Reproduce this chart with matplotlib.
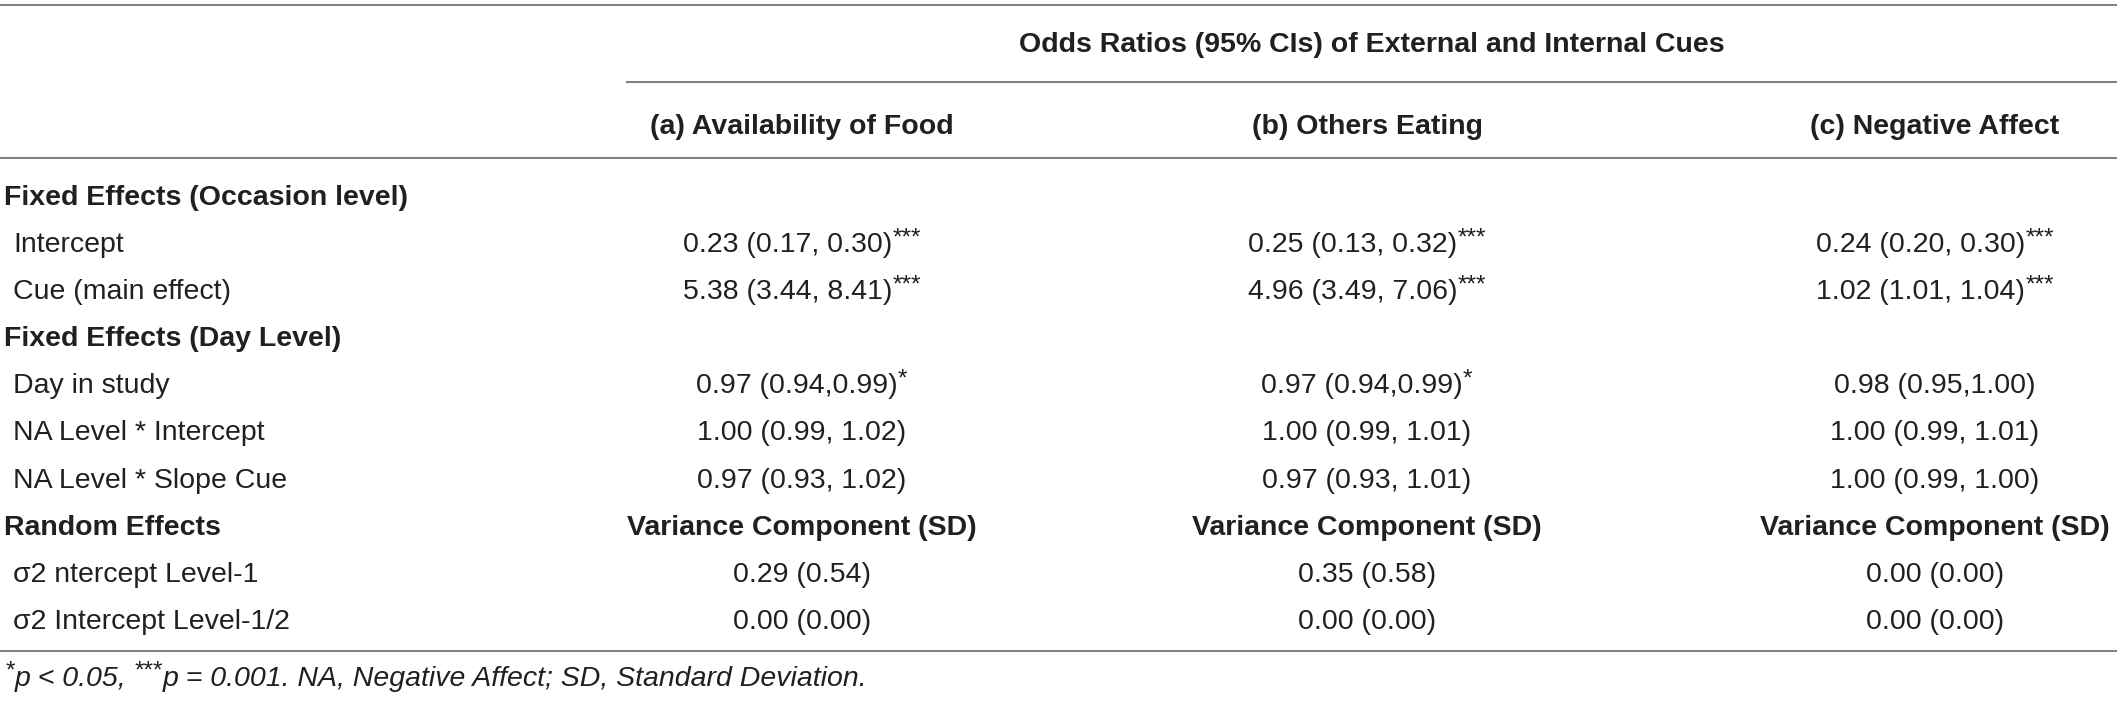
import re
import matplotlib
matplotlib.use("Agg")
import matplotlib.pyplot as plt

plt.rcParams['font.family'] = ['Liberation Sans', 'DejaVu Sans']

# table content
group_header = 'Odds Ratios (95% CIs) of External and Internal Cues'
col_headers = ['(a) Availability of Food', '(b) Others Eating', '(c) Negative Affect']
row_labels = [
    'Fixed Effects (Occasion level)',
    'Intercept',
    'Cue (main effect)',
    'Fixed Effects (Day Level)',
    'Day in study',
    'NA Level * Intercept',
    'NA Level * Slope Cue',
    'Random Effects',
    '\u03c32 ntercept Level-1',
    '\u03c32 Intercept Level-1/2',
]
row_is_section = [True, False, False, True, False, False, False, True, False, False]
col_a = ['', '0.23 (0.17, 0.30)***', '5.38 (3.44, 8.41)***', '',
         '0.97 (0.94,0.99)*', '1.00 (0.99, 1.02)', '0.97 (0.93, 1.02)',
         'Variance Component (SD)', '0.29 (0.54)', '0.00 (0.00)']
col_b = ['', '0.25 (0.13, 0.32)***', '4.96 (3.49, 7.06)***', '',
         '0.97 (0.94,0.99)*', '1.00 (0.99, 1.01)', '0.97 (0.93, 1.01)',
         'Variance Component (SD)', '0.35 (0.58)', '0.00 (0.00)']
col_c = ['', '0.24 (0.20, 0.30)***', '1.02 (1.01, 1.04)***', '',
         '0.98 (0.95,1.00)', '1.00 (0.99, 1.01)', '1.00 (0.99, 1.00)',
         'Variance Component (SD)', '0.00 (0.00)', '0.00 (0.00)']
footnote = [('*', True), ('p < 0.05, ', False), ('***', True),
            ('p = 0.001. NA, Negative Affect; SD, Standard Deviation.', False)]

W, H = 2117, 704
FS = 20.5
TXT = '#231f20'
LINE = '#808080'

fig = plt.figure(figsize=(W / 100, H / 100), dpi=100)
ax = fig.add_axes([0, 0, 1, 1])
ax.set_xlim(0, W)
ax.set_ylim(H, 0)
ax.axis('off')
renderer = fig.canvas.get_renderer()


def draw_runs(x, y, runs, ha='left', **kw):
    """Draw a line made of normal / superscript pieces, baseline at y."""
    size = kw.pop('fontsize', FS)
    arts = []
    for s, sup in runs:
        if sup:
            t = ax.text(0, y - 0.28 * size * 100 / 72, s, fontsize=size * 0.85,
                        va='baseline', ha='left', **kw)
        else:
            t = ax.text(0, y, s, fontsize=size, va='baseline', ha='left', **kw)
        arts.append(t)
    widths = [a.get_window_extent(renderer).width for a in arts]
    total = sum(widths)
    start = x - total / 2 if ha == 'center' else x
    for a, w in zip(arts, widths):
        a.set_x(start)
        start += w


def split_stars(s):
    m = re.match(r'^(.*?)(\*+)$', s)
    if m:
        return [(m.group(1), False), (m.group(2), True)]
    return [(s, False)]


# rules
ax.plot([0, W], [5, 5], color=LINE, lw=1.5)
ax.plot([627, W], [82, 82], color=LINE, lw=1.5)
ax.plot([0, W], [158, 158], color=LINE, lw=1.5)
ax.plot([0, W], [651, 651], color=LINE, lw=1.5)

# headers
ax.text(1372, 52, group_header, fontsize=FS, fontweight='bold', color=TXT,
        ha='center', va='baseline')
col_x = [802, 1367, 1935]
for cx, h in zip(col_x, col_headers):
    ax.text(cx, 134, h, fontsize=FS, fontweight='bold', color=TXT,
            ha='center', va='baseline')

# body
row_y0, row_step = 205, 47.1
for i, label in enumerate(row_labels):
    yb = row_y0 + i * row_step
    if row_is_section[i]:
        ax.text(4, yb, label, fontsize=FS, fontweight='bold', color=TXT,
                va='baseline', ha='left')
    else:
        ax.text(13, yb, label, fontsize=FS, color=TXT, va='baseline', ha='left')
    for cx, col in zip(col_x, [col_a, col_b, col_c]):
        val = col[i]
        if not val:
            continue
        if row_is_section[i]:
            ax.text(cx, yb, val, fontsize=FS, fontweight='bold', color=TXT,
                    ha='center', va='baseline')
        else:
            draw_runs(cx, yb, split_stars(val), ha='center', color=TXT)

draw_runs(5, 686, footnote, ha='left', color=TXT, fontstyle='italic')

fig.savefig('out.png', dpi=100)
